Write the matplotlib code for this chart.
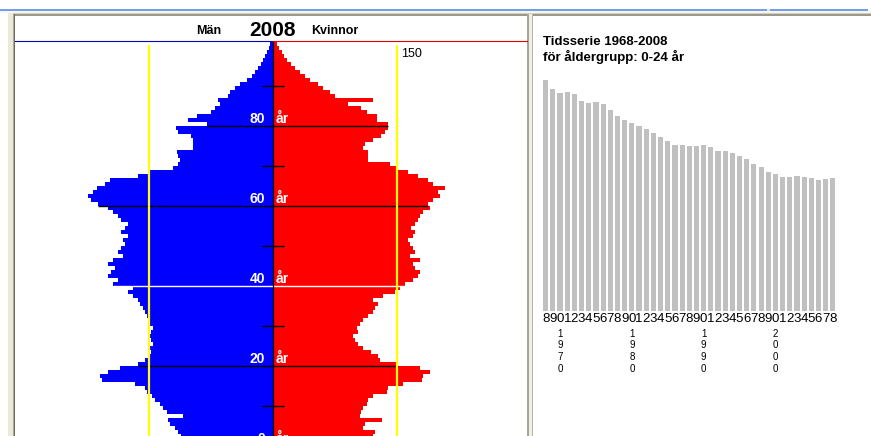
"""
Befolkningspyramid 2008 med tidsserie 1968-2008 (0-24 år)
Output: out.png
"""

import matplotlib.pyplot as plt
from matplotlib.patches import Rectangle
from matplotlib.lines import Line2D

# Figure size in pixels
W, H = 871, 436

# Pyramid data, one value per age 0-100
ages = list(range(0, 101))
men = [115, 115, 111, 115, 119, 125, 127, 109, 128, 133,
       137, 143, 146, 152, 155, 167, 207, 209, 200, 185,
       163, 155, 151, 148, 150, 145, 148, 150, 148, 145,
       149, 151, 152, 155, 157, 161, 163, 169, 175, 169,
       194, 188, 200, 196, 191, 200, 194, 182, 188, 184,
       179, 182, 175, 184, 179, 175, 184, 188, 194, 200,
       212, 220, 224, 218, 213, 203, 197, 163, 151, 121,
       115, 113, 115, 116, 97, 97, 97, 99, 115, 117,
       80, 103, 92, 75, 70, 64, 67, 54, 52, 46,
       40, 31, 25, 22, 18, 15, 12, 10, 7, 5, 4]
women = [121, 119, 121, 123, 109, 111, 132, 105, 106, 109,
         114, 115, 121, 138, 139, 157, 180, 182, 190, 178,
         151, 129, 127, 119, 109, 103, 99, 97, 103, 102,
         105, 109, 115, 121, 123, 127, 121, 133, 148, 154,
         160, 169, 175, 178, 172, 169, 178, 166, 172, 169,
         166, 163, 169, 172, 167, 172, 175, 178, 182, 190,
         188, 194, 202, 200, 208, 194, 188, 175, 163, 151,
         142, 115, 115, 115, 109, 111, 121, 131, 136, 139,
         139, 126, 126, 114, 106, 91, 121, 75, 69, 61,
         54, 45, 39, 33, 27, 22, 17, 13, 11, 7, 5]
ref_value = 150
label_ages = [0, 20, 40, 60, 80]
tick_ages = [10, 30, 50, 70, 90]

# Time series for age group 0-24
years = list(range(1968, 2009))
series = [231, 222, 218, 219, 217, 210, 208, 209, 207, 201,
          195, 191, 188, 185, 182, 178, 174, 170, 166, 166,
          165, 165, 166, 164, 160, 160, 158, 155, 152, 147,
          144, 139, 137, 134, 134, 135, 134, 133, 131, 132, 133]
decade_years = [1970, 1980, 1990, 2000]

plt.rcParams['font.family'] = ['Liberation Sans', 'DejaVu Sans']

fig = plt.figure(figsize=(W / 100, H / 100), dpi=100)
fig.patch.set_facecolor('white')


def fx(x):
    return x / W


def fy(y):
    return 1 - y / H


def box(x0, y0, x1, y1):
    return [fx(x0), fy(y1), (x1 - x0) / W, (y1 - y0) / H]


def rect(x0, y0, x1, y1, color):
    fig.add_artist(Rectangle((fx(x0), fy(y1)), (x1 - x0) / W, (y1 - y0) / H,
                             transform=fig.transFigure, color=color, lw=0))


# Window frame
rect(0, 9.5, 868, 11, '#739df0')
rect(767, 9.5, 769.5, 11, '#dfe8fb')
rect(0, 11, W, 13, '#f6f5ef')
rect(8, 13, W, 14.5, '#d3cfbe')
rect(8, 14.5, W, 16, '#9c988a')
rect(8, 13, 13, H, '#ece9d8')
rect(13, 14, 14, H, '#aca899')
rect(14, 14, 15, H, '#6f6d62')
rect(527, 14, 529, H, '#a9a594')
rect(529, 14, 531.5, H, '#f1efe4')
rect(531.5, 14, 533, H, '#b9b5a5')

# Population pyramid
ax = fig.add_axes(box(15, 41, 527, 436))
ax.axis('off')
ax.barh(ages, [-m for m in men], height=1, align='edge', color='#0000ff', lw=0)
ax.barh(ages, women, height=1, align='edge', color='#ff0000', lw=0)
ax.set_xlim(-312.1, 307.3)
ax.set_ylim(2.5, 101.25)

# Long lines at labelled ages, short ticks in between
for a in label_ages:
    c = 'white' if a == 40 else 'black'
    ax.hlines(a, -men[a], women[a], color=c, lw=1.0)
    ax.text(-9.5, a + 0.8, str(a), color='white', fontsize=10,
            fontweight='bold', ha='right', va='baseline')
    ax.text(3.5, a + 0.8, 'år', color='white', fontsize=10,
            fontweight='bold', ha='left', va='baseline')
ax.hlines(tick_ages, -13, 13, color='black', lw=1.0)

ax.vlines([-ref_value, ref_value], 2.5, 100.25, color='#ffff00', lw=1.6)
ax.vlines(0, 2.5, 101.25, color='black', lw=0.9)
ax.text(ref_value + 5, 97.3, str(ref_value), fontsize=9, ha='left',
        va='baseline')

# Header line at the top of the pyramid
fig.add_artist(Line2D([fx(15), fx(273)], [fy(41), fy(41)],
                      transform=fig.transFigure, color='#0000c0', lw=0.8))
fig.add_artist(Line2D([fx(273), fx(527)], [fy(41), fy(41)],
                      transform=fig.transFigure, color='#e00000', lw=0.8))
fig.text(fx(209), fy(34), 'Män', fontsize=9, fontweight='bold',
         ha='center', va='baseline')
fig.text(fx(272), fy(36), '2008', fontsize=15, fontweight='bold',
         ha='center', va='baseline')
fig.text(fx(335), fy(34), 'Kvinnor', fontsize=9, fontweight='bold',
         ha='center', va='baseline')

# Time series panel
fig.text(fx(543), fy(45), 'Tidsserie 1968-2008', fontsize=9.5,
         fontweight='bold', ha='left', va='baseline')
fig.text(fx(543), fy(61), 'för åldergrupp: 0-24 år', fontsize=9.5,
         fontweight='bold', ha='left', va='baseline')

ax2 = fig.add_axes(box(539, 70, 840, 311))
ax2.axis('off')
ax2.bar(years, series, width=0.72, color='#c0c0c0', lw=0)
ax2.set_xlim(1967.07, 2008.99)
ax2.set_ylim(0, 241)

# Last digit of every year under its bar
for yr in years:
    ax2.text(yr, -2, str(yr)[-1], fontsize=9.5, ha='center', va='top')

# Full year written vertically under each decade
for yr in decade_years:
    for i, ch in enumerate(str(yr)):
        ax2.text(yr, -22.5 - 11.7 * i, ch, fontsize=7, ha='center',
                 va='center')

plt.savefig('out.png', dpi=100)
